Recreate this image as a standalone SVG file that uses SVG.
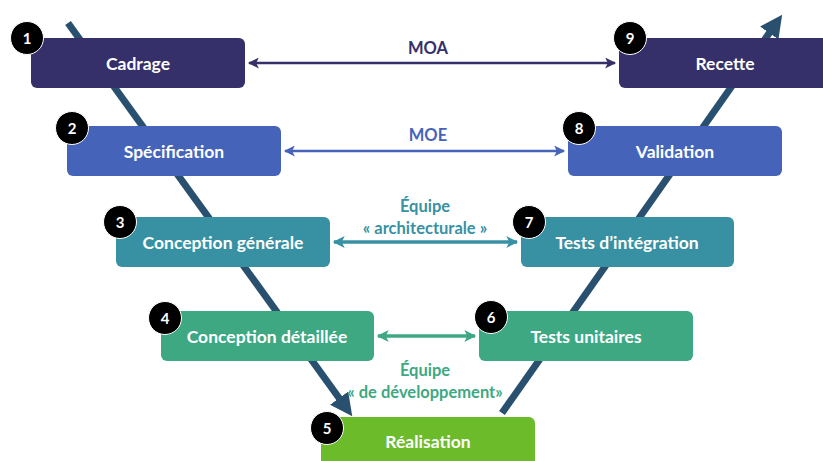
<svg xmlns="http://www.w3.org/2000/svg" width="823" height="461" viewBox="0 0 823 461">
  <defs>
    <marker id="vHead" viewBox="0 0 10 10" refX="6" refY="5" markerWidth="3.2" markerHeight="3.2" orient="auto" markerUnits="strokeWidth">
      <path d="M0,0 L10,5 L0,10 Z" fill="#2a5070"/>
    </marker>
    <marker id="hNavy" viewBox="0 0 10 10" refX="9" refY="5" markerWidth="5" markerHeight="4.4" orient="auto-start-reverse" markerUnits="strokeWidth">
      <path d="M0,0 L10,5 L0,10 L2.5,5 Z" fill="#352f6a"/>
    </marker>
    <marker id="hBlue" viewBox="0 0 10 10" refX="9" refY="5" markerWidth="5" markerHeight="4.4" orient="auto-start-reverse" markerUnits="strokeWidth">
      <path d="M0,0 L10,5 L0,10 L2.5,5 Z" fill="#4564b9"/>
    </marker>
    <marker id="hTeal" viewBox="0 0 10 10" refX="9" refY="5" markerWidth="3.6" markerHeight="3.4" orient="auto-start-reverse" markerUnits="strokeWidth">
      <path d="M0,0 L10,5 L0,10 L2.5,5 Z" fill="#3891a3"/>
    </marker>
    <marker id="hGreen" viewBox="0 0 10 10" refX="9" refY="5" markerWidth="3.6" markerHeight="3.4" orient="auto-start-reverse" markerUnits="strokeWidth">
      <path d="M0,0 L10,5 L0,10 L2.5,5 Z" fill="#3ea882"/>
    </marker>
  </defs>
  <style>
    .box { stroke: none; }
    .lbl { font-family: Lato, "Liberation Sans", sans-serif; font-weight: bold; font-size: 17.5px; fill: #ffffff; text-anchor: middle; dominant-baseline: central; }
    .num { font-family: Lato, "Liberation Sans", sans-serif; font-weight: bold; font-size: 15px; fill: #ffffff; text-anchor: middle; dominant-baseline: central; }
    .badge { fill: #000000; stroke: #ffffff; stroke-width: 1; }
    .cap { font-family: Lato, "Liberation Sans", sans-serif; font-weight: bold; font-size: 16.5px; text-anchor: middle; }
    .vline { fill: none; stroke: #2a5070; stroke-width: 7; }
  </style>
  <rect width="823" height="461" fill="#ffffff"/>

  <!-- V-shaped flow line behind the boxes -->
  <g id="connectors">
    <line class="vline" x1="68" y1="23" x2="347" y2="409" marker-end="url(#vHead)"/>
    <line class="vline" x1="502" y1="413" x2="777" y2="22" marker-end="url(#vHead)"/>
    <line x1="249" y1="63" x2="615" y2="63" stroke="#352f6a" stroke-width="2.5" marker-start="url(#hNavy)" marker-end="url(#hNavy)"/>
    <line x1="285" y1="151" x2="564" y2="151" stroke="#4564b9" stroke-width="2.5" marker-start="url(#hBlue)" marker-end="url(#hBlue)"/>
    <line x1="334" y1="242" x2="517" y2="242" stroke="#3891a3" stroke-width="3.5" marker-start="url(#hTeal)" marker-end="url(#hTeal)"/>
    <line x1="378" y1="336" x2="475" y2="336" stroke="#3ea882" stroke-width="3.5" marker-start="url(#hGreen)" marker-end="url(#hGreen)"/>
    <text class="cap" x="428" y="54" fill="#352f6a">MOA</text>
    <text class="cap" x="428" y="141" fill="#4564b9">MOE</text>
    <text class="cap" x="425" y="212" fill="#3891a3">Équipe</text>
    <text class="cap" x="425" y="234" fill="#3891a3">« architecturale »</text>
    <text class="cap" x="425" y="376" fill="#3ea882">Équipe</text>
    <text class="cap" x="425" y="398" fill="#3ea882">« de développement»</text>
  </g>

  <g id="n1">
    <rect class="box" x="31" y="38" width="214" height="50" rx="6" fill="#352f6a"/>
    <text class="lbl" x="138" y="63">Cadrage</text>
    <circle class="badge" cx="27" cy="38" r="16.5"/>
    <text class="num" x="27" y="38">1</text>
  </g>
  <g id="n2">
    <rect class="box" x="67" y="126" width="214" height="50" rx="6" fill="#4564b9"/>
    <text class="lbl" x="174" y="151">Spécification</text>
    <circle class="badge" cx="72" cy="128" r="16.5"/>
    <text class="num" x="72" y="128">2</text>
  </g>
  <g id="n3">
    <rect class="box" x="116" y="217" width="214" height="50" rx="6" fill="#3891a3"/>
    <text class="lbl" x="223" y="242">Conception générale</text>
    <circle class="badge" cx="120" cy="222" r="16.5"/>
    <text class="num" x="120" y="222">3</text>
  </g>
  <g id="n4">
    <rect class="box" x="161" y="311" width="213" height="50" rx="6" fill="#3ea882"/>
    <text class="lbl" x="267" y="336">Conception détaillée</text>
    <circle class="badge" cx="165" cy="318" r="16.5"/>
    <text class="num" x="165" y="318">4</text>
  </g>
  <g id="n5">
    <rect class="box" x="321" y="417" width="214" height="60" rx="6" fill="#6cbb2b"/>
    <text class="lbl" x="428" y="441">Réalisation</text>
    <circle class="badge" cx="327" cy="428" r="16.5"/>
    <text class="num" x="327" y="428">5</text>
  </g>
  <g id="n6">
    <rect class="box" x="479" y="311" width="214" height="50" rx="6" fill="#3ea882"/>
    <text class="lbl" x="586" y="336">Tests unitaires</text>
    <circle class="badge" cx="491" cy="317" r="16.5"/>
    <text class="num" x="491" y="317">6</text>
  </g>
  <g id="n7">
    <rect class="box" x="521" y="217" width="213" height="50" rx="6" fill="#3891a3"/>
    <text class="lbl" x="627" y="242">Tests d’intégration</text>
    <circle class="badge" cx="529" cy="222" r="16.5"/>
    <text class="num" x="529" y="222">7</text>
  </g>
  <g id="n8">
    <rect class="box" x="568" y="126" width="214" height="50" rx="6" fill="#4564b9"/>
    <text class="lbl" x="675" y="151">Validation</text>
    <circle class="badge" cx="579" cy="128" r="16.5"/>
    <text class="num" x="579" y="128">8</text>
  </g>
  <g id="n9">
    <rect class="box" x="619" y="38" width="214" height="50" rx="6" fill="#352f6a"/>
    <text class="lbl" x="725" y="63">Recette</text>
    <circle class="badge" cx="630" cy="38" r="16.5"/>
    <text class="num" x="630" y="38">9</text>
  </g>
</svg>
